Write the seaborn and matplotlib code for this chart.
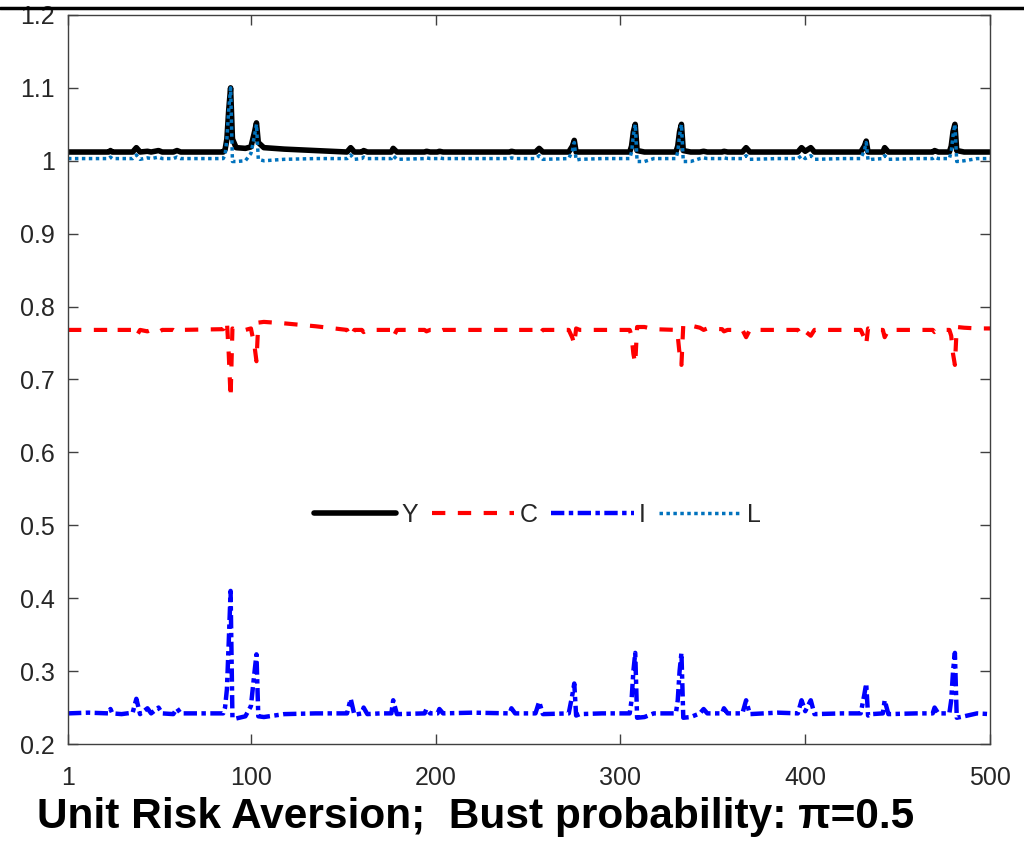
import numpy as np
import pandas as pd
import matplotlib.pyplot as plt
import seaborn as sns

# values (period, Y, C, I, L)
t = [1, 12, 23, 24, 25, 30, 36, 38, 40, 44, 46, 50, 52, 58, 60, 62,
     85, 86, 87, 88, 89, 90, 92, 97, 100, 102, 103, 104, 107, 118, 135,
     152, 154, 156, 160, 161, 163, 170, 176, 177, 179, 194, 195, 197,
     201, 202, 204, 220, 240, 241, 243, 254, 256, 258, 272, 274, 275,
     276, 278, 290, 305, 306, 307, 308, 309, 313, 318, 330, 331, 332,
     333, 334, 338, 343, 345, 347, 355, 356, 358, 366, 368, 370, 385,
     396, 398, 400, 403, 405, 420, 430, 432, 433, 434, 436, 442, 443,
     445, 460, 469, 470, 472, 478, 479, 480, 481, 482, 486, 493, 500]

Y = [1.012, 1.012, 1.012, 1.014, 1.012, 1.012, 1.012, 1.018, 1.012, 1.013,
     1.012, 1.014, 1.012, 1.012, 1.014, 1.012,
     1.012, 1.015, 1.030, 1.070, 1.100, 1.030, 1.018, 1.017, 1.019, 1.040,
     1.052, 1.025, 1.018, 1.016, 1.014,
     1.012, 1.018, 1.012, 1.012, 1.014, 1.012, 1.012, 1.012, 1.017, 1.012,
     1.012, 1.013, 1.012,
     1.012, 1.013, 1.012, 1.012, 1.012, 1.013, 1.012, 1.012, 1.017, 1.012,
     1.012, 1.020, 1.028,
     1.012, 1.012, 1.012, 1.012, 1.020, 1.040, 1.050, 1.014, 1.012, 1.012,
     1.012, 1.020, 1.040,
     1.050, 1.014, 1.012, 1.012, 1.013, 1.012, 1.012, 1.013, 1.012, 1.012,
     1.018, 1.012, 1.012,
     1.012, 1.018, 1.013, 1.018, 1.012, 1.012, 1.012, 1.020, 1.027, 1.012,
     1.012, 1.012, 1.018,
     1.012, 1.012, 1.012, 1.014, 1.012, 1.012, 1.020, 1.040, 1.050, 1.014,
     1.012, 1.012, 1.012]

C = [0.768, 0.768, 0.768, 0.765, 0.768, 0.768, 0.768, 0.759, 0.768, 0.766,
     0.768, 0.765, 0.768, 0.768, 0.765, 0.768,
     0.769, 0.775, 0.780, 0.735, 0.675, 0.770, 0.768, 0.768, 0.770, 0.745,
     0.725, 0.778, 0.779, 0.777, 0.773,
     0.768, 0.758, 0.768, 0.768, 0.765, 0.768, 0.768, 0.768, 0.758, 0.768,
     0.768, 0.766, 0.768,
     0.768, 0.766, 0.768, 0.768, 0.768, 0.766, 0.768, 0.768, 0.762, 0.768,
     0.768, 0.757, 0.748,
     0.770, 0.768, 0.768, 0.768, 0.760, 0.735, 0.722, 0.772, 0.772, 0.769,
     0.768, 0.760, 0.735,
     0.720, 0.775, 0.774, 0.771, 0.768, 0.770, 0.769, 0.766, 0.768, 0.768,
     0.758, 0.768, 0.768,
     0.768, 0.760, 0.766, 0.760, 0.768, 0.768, 0.768, 0.757, 0.748, 0.770,
     0.768, 0.768, 0.758,
     0.768, 0.768, 0.768, 0.765, 0.768, 0.768, 0.760, 0.735, 0.720, 0.772,
     0.771, 0.770, 0.770]

I = [0.242, 0.243, 0.242, 0.248, 0.242, 0.241, 0.243, 0.262, 0.241, 0.249,
     0.242, 0.250, 0.242, 0.241, 0.249, 0.242,
     0.242, 0.250, 0.275, 0.340, 0.410, 0.236, 0.235, 0.238, 0.252, 0.300,
     0.323, 0.238, 0.237, 0.241, 0.242,
     0.242, 0.262, 0.240, 0.242, 0.250, 0.241, 0.242, 0.242, 0.260, 0.241,
     0.242, 0.248, 0.242,
     0.242, 0.248, 0.242, 0.243, 0.242, 0.249, 0.242, 0.242, 0.258, 0.241,
     0.242, 0.268, 0.283,
     0.239, 0.241, 0.242, 0.242, 0.260, 0.300, 0.325, 0.236, 0.237, 0.242,
     0.242, 0.260, 0.300,
     0.325, 0.236, 0.237, 0.242, 0.248, 0.242, 0.242, 0.249, 0.242, 0.242,
     0.260, 0.241, 0.243,
     0.242, 0.260, 0.245, 0.260, 0.241, 0.242, 0.242, 0.268, 0.283, 0.239,
     0.241, 0.242, 0.260,
     0.241, 0.242, 0.242, 0.250, 0.242, 0.242, 0.260, 0.300, 0.325, 0.236,
     0.238, 0.242, 0.241]

L = [1.003, 1.003, 1.003, 1.005, 1.003, 1.003, 1.003, 1.008, 1.002, 1.004,
     1.003, 1.005, 1.003, 1.003, 1.005, 1.003,
     1.003, 1.008, 1.030, 1.070, 1.100, 0.999, 0.999, 1.000, 1.010, 1.035,
     1.050, 1.002, 1.000, 1.002, 1.003,
     1.003, 1.008, 1.002, 1.003, 1.005, 1.003, 1.003, 1.003, 1.007, 1.002,
     1.003, 1.004, 1.003,
     1.003, 1.004, 1.003, 1.003, 1.003, 1.004, 1.003, 1.003, 1.007, 1.002,
     1.003, 1.014, 1.025,
     1.001, 1.002, 1.003, 1.003, 1.012, 1.035, 1.050, 0.999, 0.999, 1.003,
     1.003, 1.012, 1.035,
     1.050, 0.999, 0.999, 1.003, 1.004, 1.003, 1.003, 1.004, 1.003, 1.003,
     1.007, 1.002, 1.003,
     1.003, 1.007, 1.003, 1.007, 1.002, 1.003, 1.003, 1.014, 1.025, 1.001,
     1.002, 1.003, 1.007,
     1.002, 1.003, 1.003, 1.005, 1.003, 1.003, 1.012, 1.035, 1.050, 0.999,
     1.000, 1.003, 1.003]

xticks = [1, 100, 200, 300, 400, 500]
yticks = [0.2, 0.3, 0.4, 0.5, 0.6, 0.7, 0.8, 0.9, 1.0, 1.1, 1.2]
title = "Unit Risk Aversion;  Bust probability: \u03c0=0.5"

sns.set_style("ticks")
plt.rcParams["font.family"] = ["Liberation Sans", "DejaVu Sans"]
plt.rcParams["xtick.direction"] = "in"
plt.rcParams["ytick.direction"] = "in"

df = pd.DataFrame({"t": t, "Y": Y, "C": C, "I": I, "L": L})

fig = plt.figure(figsize=(10.24, 8.5), dpi=100)
ax = fig.add_axes([0.0664, 0.1247, 0.9004, 0.8577])

sns.lineplot(data=df, x="t", y="Y", ax=ax, color="black", lw=4, label="Y")
sns.lineplot(data=df, x="t", y="C", ax=ax, color="#ff0000", lw=3,
             linestyle=(0, (3.2, 3.0)), label="C")
sns.lineplot(data=df, x="t", y="I", ax=ax, color="#0000ff", lw=3.2,
             linestyle=(0, (3.0, 1.0, 1.0, 1.0)), label="I")
sns.lineplot(data=df, x="t", y="L", ax=ax, color="#0072bd", lw=2.5,
             linestyle=(0, (1.0, 1.0)), label="L")

ax.set_xlim(1, 500)
ax.set_ylim(0.2, 1.2)
ax.set_xticks(xticks)
ax.set_yticks(yticks)
ax.set_yticklabels([f"{v:g}" for v in yticks])
ax.set_xlabel("")
ax.set_ylabel("")
ax.tick_params(axis="both", which="both", length=7, width=1, colors="#404040",
               labelsize=18, labelcolor="#262626", top=True, right=True)
ax.tick_params(axis="x", pad=16)
ax.tick_params(axis="y", pad=9.5)
for sp in ax.spines.values():
    sp.set_visible(True)
    sp.set_color("#404040")
    sp.set_linewidth(1)

ax.legend(loc="center", bbox_to_anchor=(0.509, 0.314), ncol=4, frameon=False,
          fontsize=18, handlelength=3.3, handletextpad=0.2,
          columnspacing=0.55)

# top border line of the slide
fig.add_artist(plt.Line2D([0, 1], [1 - 8 / 850, 1 - 8 / 850], color="black",
                          lw=2.5, transform=fig.transFigure))

fig.text(0.036, 22 / 850, title, fontsize=30.5, fontweight="bold",
         ha="left", va="baseline", color="black")

fig.savefig("out.png", dpi=100)
